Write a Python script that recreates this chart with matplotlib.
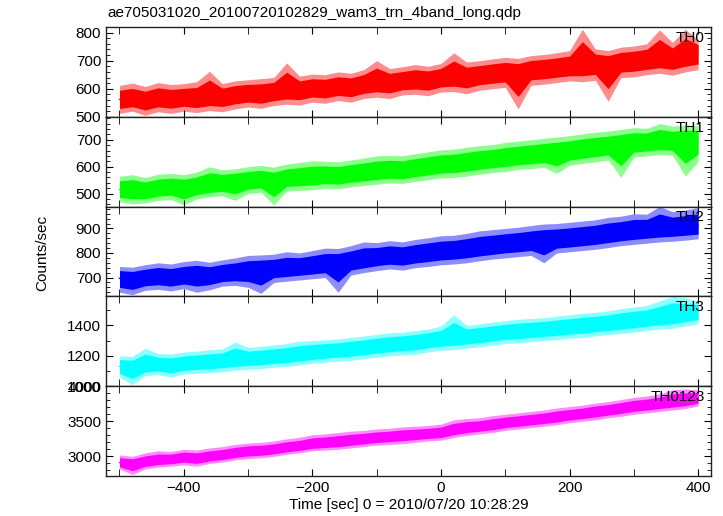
import numpy as np
import matplotlib
matplotlib.use('Agg')
import matplotlib.pyplot as plt
import matplotlib.ticker as mtick

plt.rcParams['font.family'] = ['Liberation Sans', 'DejaVu Sans']
plt.rcParams['font.size'] = 11

title = 'ae705031020_20100720102829_wam3_trn_4band_long.qdp'
xlabel = 'Time [sec] 0 = 2010/07/20 10:28:29'
ylabel = 'Counts/sec'

# time bins (sec), read every 20 s
time = list(range(-500, 401, 20))

# TH0 (red)
th0_mid = [562, 566, 560, 568, 565, 570, 566, 574, 572, 580, 585, 582, 590, 598, 596, 605,
           603, 610, 608, 618, 625, 622, 630, 634, 632, 640, 645, 642, 650, 656, 660, 655,
           668, 672, 676, 680, 686, 690, 684, 695, 700, 704, 712, 708, 718, 725]
th0_hi = [612, 620, 608, 622, 615, 618, 625, 662, 618, 628, 632, 636, 640, 692, 645, 652,
          650, 660, 655, 668, 700, 672, 678, 686, 680, 690, 728, 695, 700, 706, 712, 708,
          718, 722, 728, 736, 812, 742, 736, 748, 752, 760, 810, 765, 812, 775]
th0_lo = [512, 520, 505, 518, 512, 520, 515, 522, 518, 528, 535, 530, 540, 545, 542, 552,
          548, 558, 552, 565, 570, 565, 578, 580, 575, 588, 590, 582, 595, 600, 605, 528,
          612, 616, 622, 628, 625, 630, 555, 640, 642, 650, 655, 648, 660, 668]

# TH1 (green)
th1_mid = [515, 518, 512, 520, 525, 522, 528, 535, 540, 545, 548, 552, 545, 558, 562, 565,
           570, 568, 575, 580, 585, 590, 588, 596, 602, 610, 612, 618, 625, 630, 635, 640,
           645, 650, 655, 660, 668, 672, 678, 684, 690, 692, 698, 695, 700, 700]
th1_hi = [565, 570, 560, 572, 575, 570, 580, 600, 588, 592, 600, 605, 598, 610, 615, 622,
          620, 618, 625, 632, 640, 642, 640, 648, 655, 662, 665, 672, 678, 682, 690, 695,
          700, 705, 710, 715, 722, 728, 732, 738, 745, 742, 760, 750, 755, 752]
th1_lo = [470, 462, 465, 475, 478, 458, 480, 488, 492, 475, 500, 505, 458, 510, 512, 515,
          520, 518, 525, 530, 535, 540, 538, 545, 552, 558, 560, 565, 572, 578, 582, 590,
          592, 598, 575, 605, 612, 618, 625, 560, 635, 640, 645, 642, 565, 618]

# TH2 (blue)
th2_mid = [697, 692, 700, 705, 702, 708, 712, 710, 718, 722, 728, 732, 735, 740, 745, 750,
           756, 760, 768, 776, 785, 790, 788, 795, 802, 808, 812, 818, 825, 830, 838, 842,
           848, 852, 856, 860, 866, 872, 880, 886, 893, 898, 902, 905, 910, 912]
th2_hi = [745, 742, 752, 760, 755, 765, 770, 762, 772, 780, 790, 792, 795, 805, 800, 810,
          820, 818, 830, 845, 842, 850, 845, 855, 862, 870, 872, 880, 890, 895, 900, 905,
          912, 918, 920, 925, 930, 935, 945, 950, 960, 958, 990, 968, 975, 985]
th2_lo = [640, 630, 648, 652, 645, 655, 640, 650, 665, 668, 660, 635, 680, 685, 690, 695,
          700, 640, 710, 720, 728, 735, 730, 740, 745, 752, 755, 760, 768, 775, 780, 785,
          790, 760, 800, 805, 810, 815, 822, 830, 835, 840, 845, 848, 852, 858]

# TH3 (cyan)
th3_mid = [1130, 1125, 1138, 1145, 1140, 1150, 1158, 1162, 1170, 1178, 1185, 1190, 1198,
           1205, 1215, 1225, 1232, 1240, 1248, 1258, 1270, 1278, 1285, 1292, 1305, 1315,
           1322, 1330, 1340, 1350, 1360, 1365, 1372, 1380, 1388, 1395, 1402, 1410, 1418,
           1430, 1440, 1448, 1458, 1468, 1478, 1490]
th3_hi = [1200, 1195, 1250, 1215, 1210, 1225, 1230, 1240, 1245, 1290, 1255, 1262, 1270,
          1280, 1295, 1300, 1305, 1310, 1320, 1330, 1340, 1350, 1355, 1365, 1375, 1395,
          1470, 1400, 1410, 1420, 1430, 1440, 1445, 1450, 1460, 1470, 1478, 1485, 1495,
          1510, 1520, 1530, 1560, 1590, 1580, 1560]
th3_lo = [1060, 1010, 1070, 1075, 1060, 1080, 1085, 1090, 1095, 1105, 1110, 1115, 1125,
          1130, 1140, 1150, 1158, 1165, 1170, 1180, 1190, 1200, 1205, 1210, 1225, 1235,
          1240, 1250, 1258, 1270, 1280, 1285, 1292, 1300, 1305, 1315, 1320, 1330, 1340,
          1345, 1355, 1365, 1375, 1380, 1395, 1410]

# TH0123 (magenta)
th0123_mid = [2910, 2900, 2925, 2945, 2960, 2990, 2975, 3000, 3020, 3050, 3075, 3080, 3100,
              3130, 3150, 3180, 3195, 3210, 3230, 3250, 3270, 3285, 3300, 3310, 3325, 3340,
              3380, 3410, 3430, 3455, 3480, 3500, 3520, 3540, 3565, 3590, 3610, 3640, 3660,
              3690, 3720, 3735, 3760, 3780, 3805, 3830]
th0123_hi = [3020, 3000, 3050, 3080, 3070, 3100, 3090, 3120, 3140, 3170, 3190, 3200, 3220,
             3250, 3270, 3310, 3320, 3340, 3360, 3370, 3390, 3400, 3420, 3430, 3440, 3460,
             3520, 3540, 3550, 3580, 3600, 3620, 3640, 3660, 3690, 3710, 3730, 3760, 3780,
             3810, 3840, 3860, 3890, 3950, 3960, 3950]
th0123_lo = [2820, 2740, 2820, 2850, 2860, 2880, 2860, 2900, 2920, 2950, 2970, 2980, 3000,
             3030, 3050, 3080, 3090, 3100, 3120, 3140, 3160, 3170, 3180, 3200, 3220, 3230,
             3270, 3300, 3320, 3340, 3370, 3390, 3410, 3430, 3450, 3480, 3500, 3520, 3550,
             3570, 3600, 3620, 3640, 3660, 3680, 3720]

panels = [
    ('TH0', '#ff0000', th0_lo, th0_mid, th0_hi, (500, 820), 100, 20),
    ('TH1', '#00ff00', th1_lo, th1_mid, th1_hi, (452, 785), 100, 20),
    ('TH2', '#0000ff', th2_lo, th2_mid, th2_hi, (623, 989), 100, 20),
    ('TH3', '#00ffff', th3_lo, th3_mid, th3_hi, (1000, 1590), 200, 100),
    ('TH0123', '#ff00ff', th0123_lo, th0123_mid, th0123_hi, (2720, 4000), 500, 100),
]

fig, axs = plt.subplots(5, 1, sharex=True, figsize=(7.23, 5.16), dpi=100)
fig.subplots_adjust(left=0.1466, right=0.9834, top=0.9477, bottom=0.0775, hspace=0)

t = np.array(time)
for ax, (name, col, lo, mid, hi, ylim, major, minor) in zip(axs, panels):
    lo, mid, hi = np.array(lo), np.array(mid), np.array(hi)
    # light error-bar halo, then the solid core of the light curve
    ax.fill_between(t, lo, hi, color=col, alpha=0.45, lw=0)
    ax.fill_between(t, mid - 0.65 * (mid - lo), mid + 0.65 * (hi - mid), color=col, lw=0)
    ax.plot(t, mid, color=col, lw=1)
    ax.set_ylim(*ylim)
    ax.yaxis.set_major_locator(mtick.MultipleLocator(major))
    ax.yaxis.set_minor_locator(mtick.MultipleLocator(minor))
    ax.xaxis.set_major_locator(mtick.MultipleLocator(200))
    ax.xaxis.set_minor_locator(mtick.MultipleLocator(100))
    ax.tick_params(which='both', direction='in', top=True, right=True, labelsize=11)
    ax.tick_params(which='major', length=5)
    ax.tick_params(which='minor', length=3)
    ax.tick_params(axis='x', which='minor', length=5)
    for s in ax.spines.values():
        s.set_linewidth(1)
        s.set_color('#222222')
    ax.text(0.99, 0.88, name, transform=ax.transAxes, ha='right', va='center', fontsize=11)

axs[-1].set_xlim(-521, 420)
axs[-1].set_xlabel(xlabel, fontsize=11, labelpad=2)
fig.text(0.058, 0.51, ylabel, rotation=90, ha='center', va='center', fontsize=11)
fig.text(0.148, 0.975, title, ha='left', va='center', fontsize=11)

plt.savefig('out.png', dpi=100)
